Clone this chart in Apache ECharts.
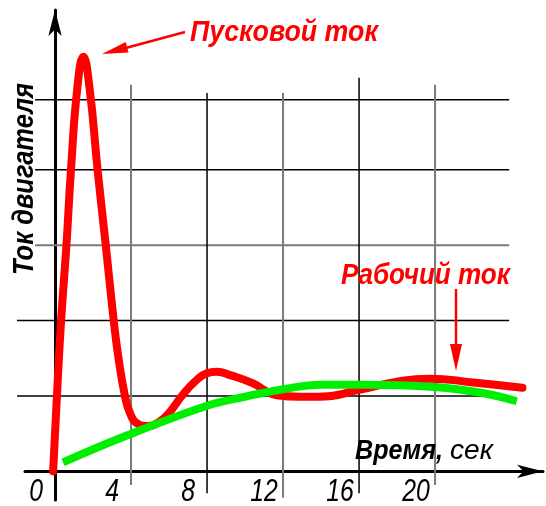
<!DOCTYPE html>
<html>
<head>
<meta charset="utf-8">
<script src="https://cdn.jsdelivr.net/npm/echarts@6/dist/echarts.min.js"></script>
<style>
html,body{margin:0;padding:0;background:#fff;}
#chart{width:546px;height:506px;}
</style>
</head>
<body>
<div id="chart"></div>
<script>
// ---- data ----
const redT   = [-0.1, 0.1, 0.32, 0.6, 0.84, 1.18, 1.49, 1.81, 2.24, 2.67, 3.09, 3.33, 3.68, 3.95, 4.3, 4.9, 5.5, 6.05, 6.67, 7.4, 7.98, 8.5, 9.3, 10.4, 11.67, 12.9, 13.9, 16, 18, 19.7, 22, 24.6];
const redV   = [0, 1.0, 2.0, 3.0, 4.0, 5.1, 5.5, 5.1, 4.0, 3.0, 2.0, 1.52, 1.0, 0.77, 0.64, 0.6, 0.66, 0.79, 1.0, 1.2, 1.3, 1.32, 1.27, 1.17, 1.01, 0.99, 0.99, 1.08, 1.19, 1.23, 1.18, 1.11];
const greenT = [0.42, 3.42, 8, 10, 12, 14, 16, 20, 22.5, 24.3];
const greenV = [0.12, 0.44, 0.87, 0.99, 1.09, 1.15, 1.15, 1.12, 1.04, 0.93];
const tickValues = [0, 4, 8, 12, 16, 20];
const tickLabels = ['0', '4', '8', '12', '16', '20'];
const hGridValues = [1, 2, 3, 4, 4.93];
const vGridValues = [4, 8, 12, 16, 20];

const yTitle = 'Ток двигателя';
const xTitleBold = 'Время,';
const xTitleUnit = 'сек';
const note1 = 'Пусковой ток';
const note2 = 'Рабочий ток';

// ---- layout / style ----
const hFrom = [-2.0, -2.0, -1.05, -1.05, -1.05];
const hTo = 23.9;
const hColor = ['#000', '#000', '#7a7a7a', '#000', '#000'];
const hWidth = [1.5, 1.5, 2, 1.5, 1.5];
const vFrom = [-0.18, -0.29, -0.35, -0.29, -0.18];
const vTo = [5.13, 5.02, 5.02, 5.22, 5.13];
const vColor = ['#7a7a7a', '#000', '#7a7a7a', '#000', '#7a7a7a'];
const vWidth = [2, 1.5, 2, 1.5, 2];

const FONT = '"Liberation Sans", Arial, sans-serif';
const measureCtx = document.createElement('canvas').getContext('2d');
function fitScale(text, size, weight, target) {
  measureCtx.font = 'italic ' + weight + ' ' + size + 'px ' + FONT;
  return target / measureCtx.measureText(text).width;
}
function txt(text, x, y, size, weight, color, target, extra) {
  const o = {type: 'text', x: x, y: y, z: 10, originX: 0, originY: 0,
    scaleX: fitScale(text, size, weight, target),
    style: {text: text, fill: color, fontSize: size, fontWeight: weight, fontStyle: 'italic',
      fontFamily: FONT, align: 'left', verticalAlign: 'middle'}};
  return Object.assign(o, extra || {});
}

const gridSegs = [];
hGridValues.forEach((v, i) => gridSegs.push({a: [hFrom[i], v], b: [hTo, v], c: hColor[i], w: hWidth[i]}));
vGridValues.forEach((t, i) => gridSegs.push({a: [t, vFrom[i]], b: [t, vTo[i]], c: vColor[i], w: vWidth[i]}));

const chart = echarts.init(document.getElementById('chart'), null, {renderer: 'canvas'});

const ytScale = fitScale(yTitle, 30, 'bold', 192);

const option = {
  animation: false,
  backgroundColor: '#fff',
  grid: {left: 25, right: 3, top: 10, bottom: 6, containLabel: false},
  xAxis: {
    type: 'value', min: -1.58, max: 25.68,
    axisLine: {show: true, onZero: true, symbol: ['none', 'arrow'], symbolSize: [10, 26],
      lineStyle: {color: '#000', width: 3}},
    axisTick: {show: false}, axisLabel: {show: false}, splitLine: {show: false}
  },
  yAxis: {
    type: 'value', min: -0.38, max: 6.12,
    axisLine: {show: true, onZero: true, symbol: ['none', 'arrow'], symbolSize: [10, 26],
      lineStyle: {color: '#000', width: 3}},
    axisTick: {show: false}, axisLabel: {show: false}, splitLine: {show: false}
  },
  series: [
    {
      type: 'custom', silent: true, clip: false, z: 1,
      data: gridSegs.map(s => [s.a[0], s.a[1], s.b[0], s.b[1]]),
      renderItem: function (params, api) {
        const s = gridSegs[params.dataIndex];
        const p1 = api.coord([api.value(0), api.value(1)]);
        const p2 = api.coord([api.value(2), api.value(3)]);
        return {type: 'line', shape: {x1: p1[0], y1: p1[1], x2: p2[0], y2: p2[1]},
          style: {stroke: s.c, lineWidth: s.w}};
      }
    },
    {
      type: 'custom', silent: true, clip: false, z: 3,
      data: tickValues.map((t, i) => [t, 0, i]),
      renderItem: function (params, api) {
        const p = api.coord([api.value(0), api.value(1)]);
        return {type: 'text', x: p[0] - 19, y: p[1] + 21, scaleX: 0.8,
          style: {text: tickLabels[params.dataIndex], fill: '#000', fontSize: 31,
            fontStyle: 'italic', fontFamily: FONT, align: 'center', verticalAlign: 'middle'}};
      }
    },
    {
      type: 'line', z: 4, silent: true, smooth: 0.5, showSymbol: false,
      data: redT.map((t, i) => [t, redV[i]]),
      lineStyle: {color: '#ff0000', width: 8, cap: 'round', join: 'round'}
    },
    {
      type: 'line', z: 5, silent: true, smooth: 0.4, showSymbol: false,
      data: greenT.map((t, i) => [t, greenV[i]]),
      lineStyle: {color: '#00ee00', width: 8, cap: 'butt', join: 'round'}
    }
  ],
  graphic: [
    {type: 'text', x: 25, y: 179, rotation: Math.PI / 2, z: 10, scaleX: ytScale,
      style: {text: yTitle, fill: '#000', fontSize: 30, fontWeight: 'bold', fontStyle: 'italic',
        fontFamily: FONT, align: 'center', verticalAlign: 'middle'}},
    txt(note1, 190, 33, 30, 'bold', '#ff0000', 188),
    txt(note2, 341, 276, 29, 'bold', '#ff0000', 169),
    txt(xTitleBold, 355, 451, 28, 'bold', '#000', 88),
    txt(xTitleUnit, 450, 451, 28, 'normal', '#000', 43),
    {type: 'line', z: 10, shape: {x1: 185, y1: 32, x2: 122, y2: 49},
      style: {stroke: '#ff0000', lineWidth: 2.5}},
    {type: 'polygon', z: 10, shape: {points: [[102, 54], [128.5, 52.6], [125.7, 42]]},
      style: {fill: '#ff0000'}},
    {type: 'line', z: 10, shape: {x1: 456, y1: 289, x2: 456, y2: 350},
      style: {stroke: '#ff0000', lineWidth: 2.5}},
    {type: 'polygon', z: 10, shape: {points: [[456, 371], [450, 344], [462, 344]]},
      style: {fill: '#ff0000'}}
  ]
};
chart.setOption(option);
</script>
</body>
</html>
